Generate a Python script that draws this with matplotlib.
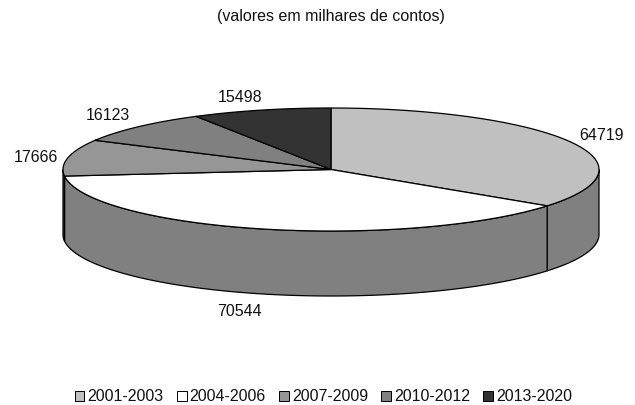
import numpy as np
import matplotlib
matplotlib.use("Agg")
from matplotlib import pyplot as plt
from matplotlib.patches import Patch, Polygon

periods = ["2001-2003", "2004-2006", "2007-2009", "2010-2012", "2013-2020"]
values = [64719, 70544, 17666, 16123, 15498]
top_colors = ["#c0c0c0", "#ffffff", "#969696", "#808080", "#333333"]
side_colors = ["#808080", "#808080", "#4b4b4b", "#404040", "#1a1a1a"]

# pie geometry in pixels
CX, CY = 331, 169.5
RX, RY = 268, 61.5
DEPTH = 65

plt.rcParams["font.family"] = ["Liberation Sans", "DejaVu Sans"]


def rim(start, end):
    # angles are clockwise from 12 o'clock
    t = np.radians(np.linspace(start, end, max(int(end - start) * 2, 2)))
    return np.column_stack([CX + RX * np.sin(t), CY - RY * np.cos(t)])


fig = plt.figure(figsize=(6.35, 4.05), dpi=100)
ax = fig.add_axes([0, 0, 1, 1])
ax.set_xlim(0, 635)
ax.set_ylim(405, 0)
ax.axis("off")

edges = np.cumsum([0] + values) / sum(values) * 360

for i in range(len(values)):
    a, b = edges[i], edges[i + 1]

    # front wall, only the part between 3 and 9 o'clock shows
    lo, hi = max(a, 90), min(b, 270)
    if lo < hi:
        pts = rim(lo, hi)
        wall = np.vstack([pts, pts[::-1] + [0, DEPTH]])
        ax.add_patch(Polygon(wall, closed=True, fc=side_colors[i], ec="black", lw=0.9, zorder=2))

    top = np.vstack([[CX, CY], rim(a, b)])
    ax.add_patch(Polygon(top, closed=True, fc=top_colors[i], ec="black", lw=0.9, zorder=3))

ax.text(331, 16.5, "(valores em milhares de contos)", ha="center", va="center", fontsize=11.5, color="#111111")

label_pos = [(602, 136), (239, 311), (35.5, 157), (108, 115), (240, 97)]
for v, (x, y) in zip(values, label_pos):
    ax.text(x, y, str(v), ha="center", va="center", fontsize=11.5, color="#111111")

handles = [Patch(fc=c, ec="black", lw=0.7) for c in top_colors]
legend = ax.legend(
    handles,
    periods,
    loc="center",
    bbox_to_anchor=(0.5094, 0.02),
    ncol=5,
    frameon=False,
    fontsize=11.5,
    handlelength=0.6,
    handleheight=0.6,
    handletextpad=0.2,
    columnspacing=0.83,
    borderpad=0,
)
for text in legend.get_texts():
    text.set_color("#111111")

fig.savefig("out.png", dpi=100)
